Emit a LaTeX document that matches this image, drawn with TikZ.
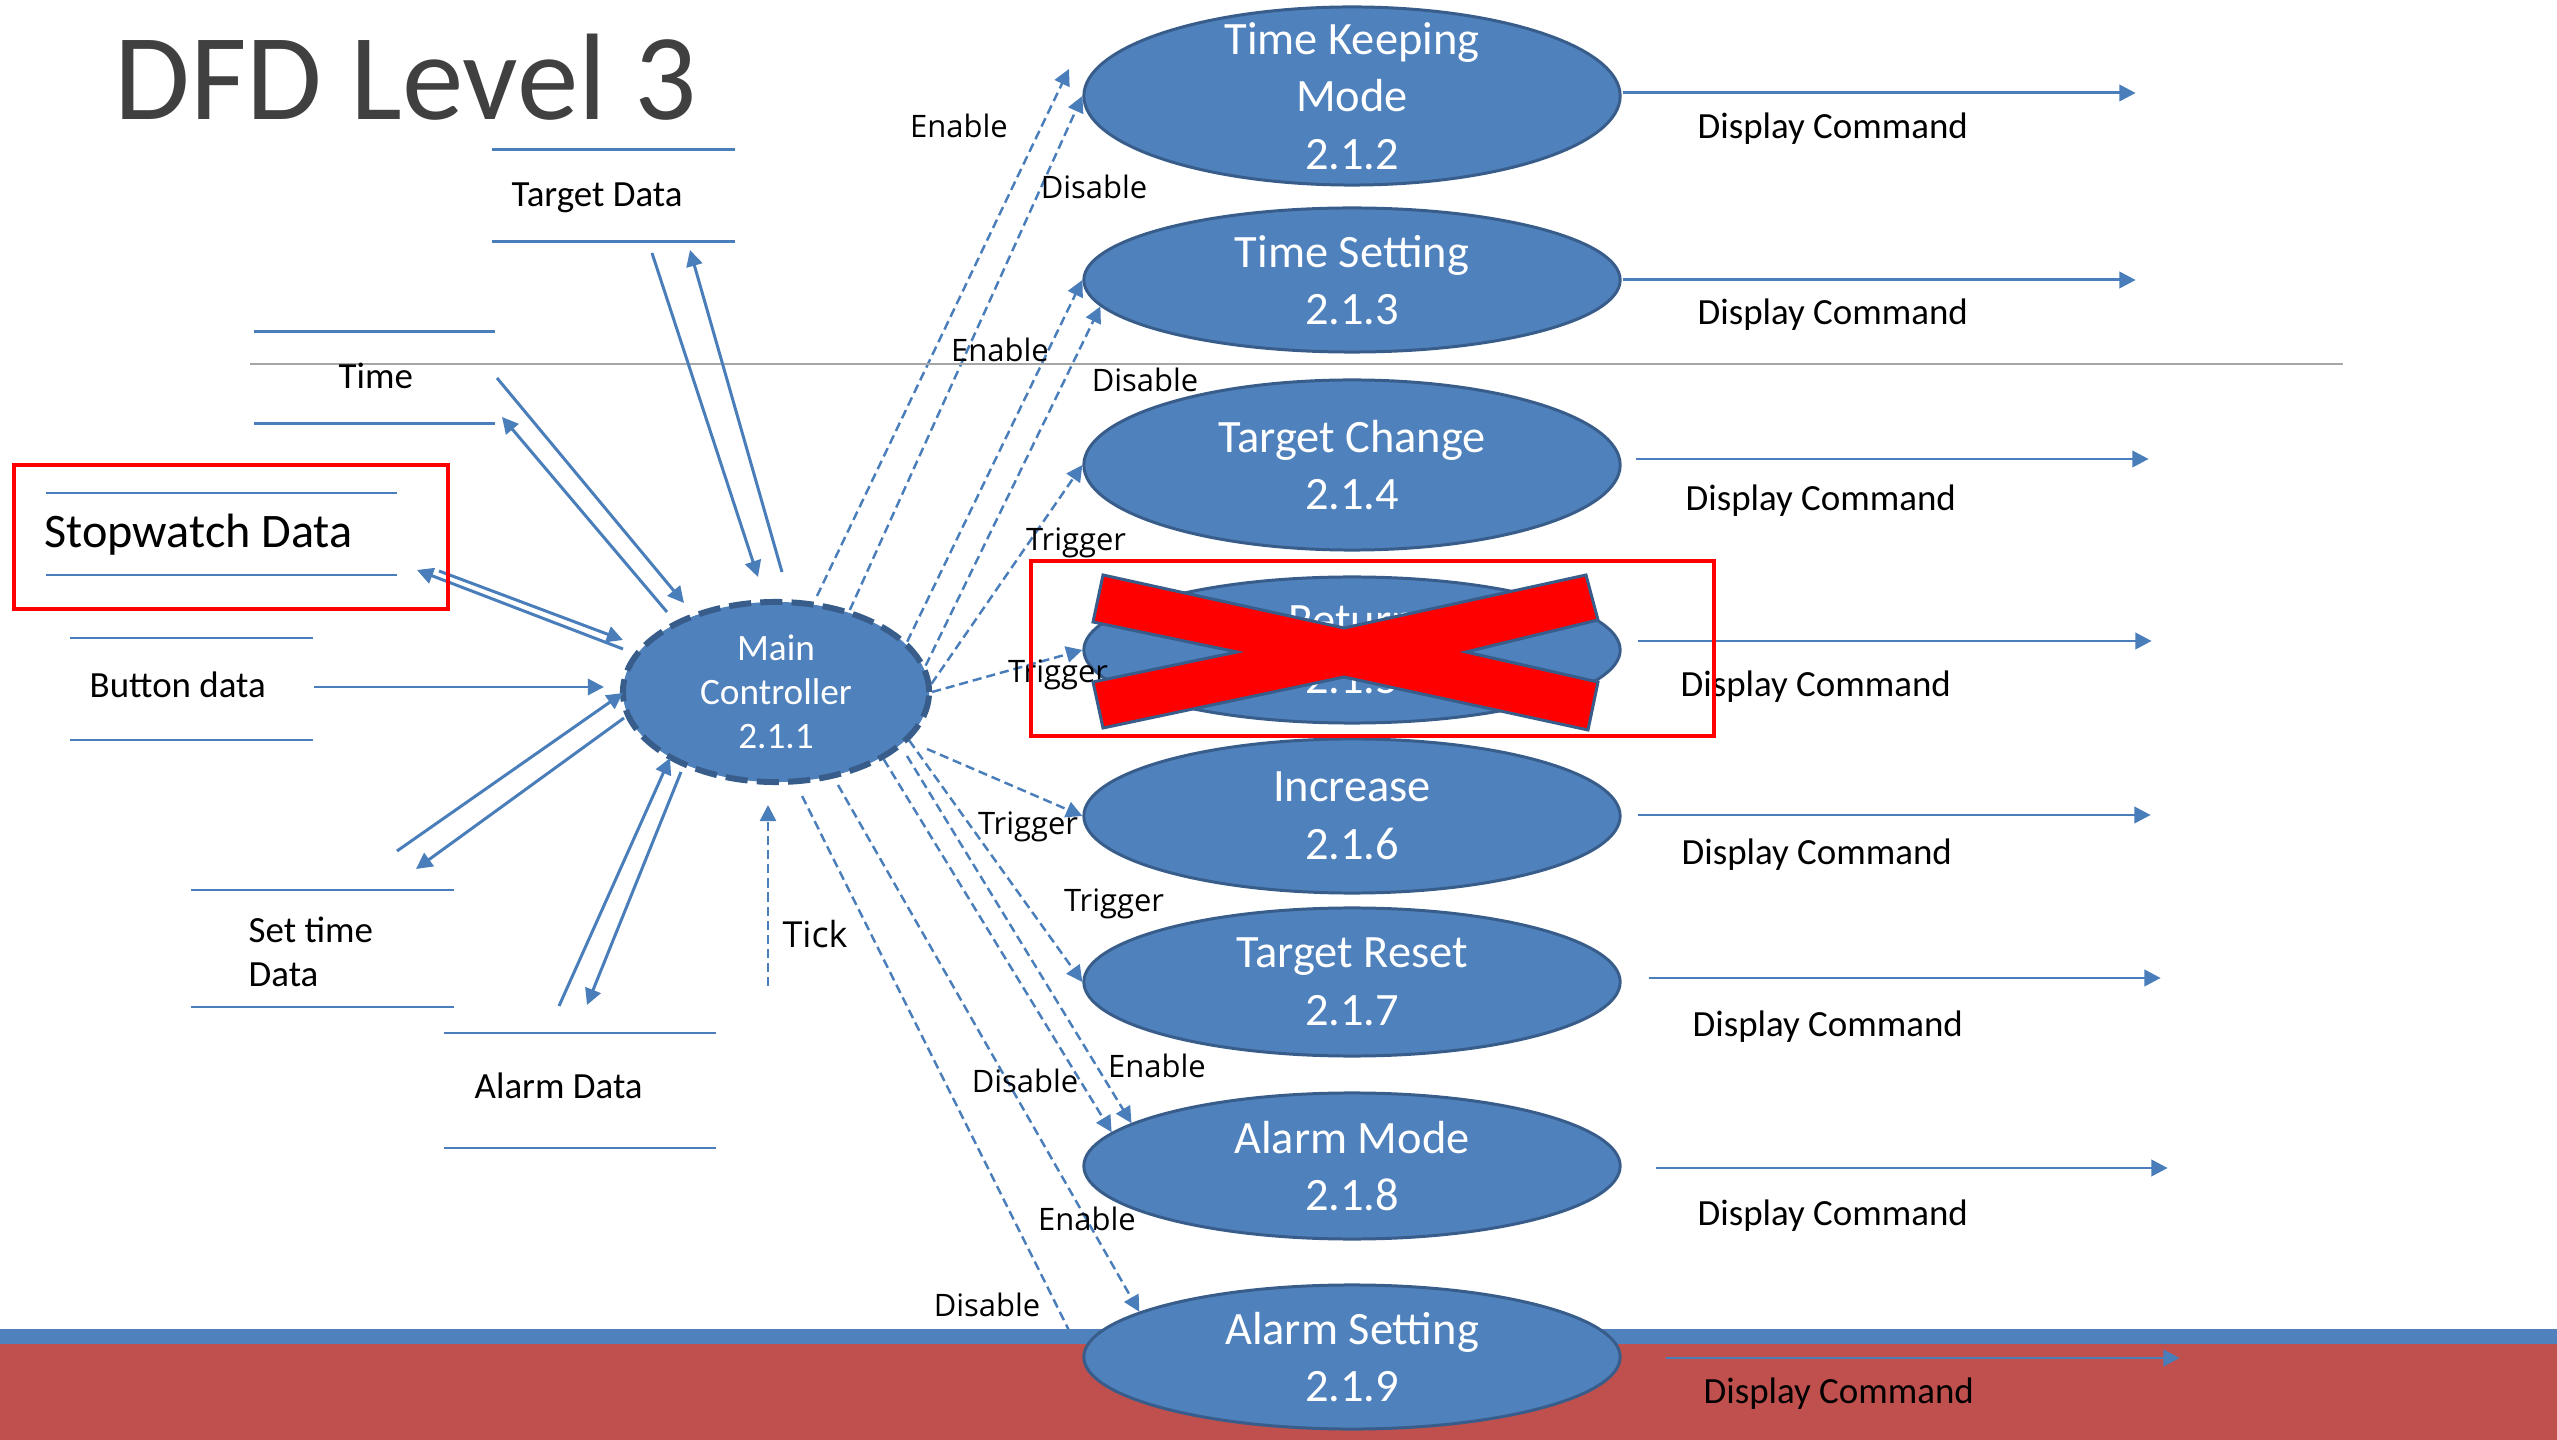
\documentclass[tikz,border=0pt]{standalone}
\usepackage{fontspec}
\setmainfont{Carlito}
\newfontfamily\edgefont{Open Sans}
\usetikzlibrary{shapes.geometric, arrows.meta}

\definecolor{procfill}{HTML}{4F81BD}
\definecolor{procedge}{HTML}{385D8A}
\definecolor{flowblue}{HTML}{4A7EBB}
\definecolor{bandred}{HTML}{C0504D}
\definecolor{titlegrey}{HTML}{404040}
\definecolor{rulegrey}{HTML}{A6A6A6}

\pgfdeclarelayer{back}
\pgfsetlayers{back,main}

\tikzset{
  proc/.style={ellipse, draw=procedge, fill=procfill, line width=0.85pt, minimum width=5.36cm, inner sep=0pt},
  ptext/.style={text=white, align=center, inner sep=0pt, font=\fontsize{13.2}{16.4}\selectfont},
  mainproc/.style={ellipse, draw=procedge, fill=procfill, line width=1.7pt, dash pattern=on 6.3pt off 2.6pt,
    minimum width=3.06cm, minimum height=1.8cm, inner sep=0pt},
  mtext/.style={text=white, align=center, inner sep=0pt, font=\fontsize{10.6}{12.6}\selectfont},
  storetext/.style={anchor=base west, inner sep=0pt, font=\fontsize{10.5}{12.5}\selectfont},
  storeline/.style={draw=flowblue, line width=0.85pt},
  edgelbl/.style={anchor=base, inner sep=0pt, font=\edgefont\fontsize{8.8}{10.5}\selectfont},
  flow/.style={draw=flowblue, line width=0.85pt, -{Triangle[length=4.6pt,width=4.6pt]}},
  ctrl/.style={flow, line width=0.7pt, dash pattern=on 2.6pt off 1.4pt},
}

\begin{document}
\begin{tikzpicture}[x=0.01cm, y=-0.01cm]
\useasboundingbox (0,0) rectangle (2557,1440);

% bottom band
\fill[procfill] (0,1329) rectangle (2557,1344);
\fill[bandred] (0,1344) rectangle (2557,1440);

\node[anchor=base west, inner sep=0pt, text=titlegrey, font=\fontsize{35}{41}\selectfont] (title) at (114,120) {DFD Level 3};
\draw[rulegrey, line width=0.6pt] (250,364) -- (2343,364);

% Data stores
\foreach \x/\y/\w/\v in {492/150/735/242, 254/332/495/424, 46/493/397/575, 70/638/313/740, 191/890/454/1007, 444/1033/716/1148}
  \draw[storeline] (\x,\y) -- (\w,\y) (\x,\v) -- (\w,\v);
\node[storetext] (target) at (511,207) {Target Data};
\node[storetext] (time) at (338,389) {Time};
\node[storetext, font=\fontsize{13.7}{16}\selectfont] (stopwatch) at (44,548) {Stopwatch Data};
\node[storetext] (button) at (89,698) {Button data};
\node[storetext, anchor=west, align=left] (settime) at (248,952) {Set time\\Data};
\node[storetext] (alarm) at (474,1098) {Alarm Data};

% Processes
\node[mainproc, label={[mtext]center:{Main\\Controller\\2.1.1}}] (mc) at (776,692) {};
\foreach \name/\y/\h/\txt in {p2/96/1.78/{Time Keeping\\Mode\\2.1.2}, p3/280/1.44/{Time Setting\\2.1.3},
    p4/465/1.70/{Target Change\\2.1.4}, p5/650/1.46/{Return\\2.1.5}, p6/816/1.54/{Increase\\2.1.6},
    p7/982/1.48/{Target Reset\\2.1.7}, p8/1166/1.46/{Alarm Mode\\2.1.8}, p9/1357/1.44/{Alarm Setting\\2.1.9}}
  \node[proc, minimum height=\h cm, label={[ptext]center:\txt}] (\name) at (1352,\y) {};

% Free ends
\foreach \n/\x/\y in {tA/497/378, tB/684/603, tC/667/612, tD/502/417, gA/652/253, gB/758/577, gC/782/572, gD/690/250,
    sA/439/571, sB/623/640, sC/623/649, sD/417/570, bA/314/687, bB/604/687, eA/397/851, eB/623/693, eC/624/718, eD/416/869,
    aA/559/1006, aB/670/758, aC/681/772, aD/587/1005, kA/768/986, kB/768/805,
    c1/817/596, k2/1069/69, c6/927/749, c8/907/756, c9/838/785, c10/802/796}
  \coordinate (\n) at (\x,\y);

% Data flows
\foreach \i/\j in {tA/tB, tC/tD, gA/gB, gC/gD, sA/sB, sC/sD, bA/bB, eA/eB, eC/eD, aA/aB, aC/aD}
  \draw[flow] (\i) -- (\j);

% Control flows
\begin{pgfonlayer}{back}
\draw[ctrl] (kA) -- (kB);
\foreach \i/\j in {c1/k2, mc.48/p2.west, mc.21/p3.west, mc.10/p3.186, mc.3/p4.west, mc.east/p5.west,
    c6/p6.west, mc.-20/p7.west, c8/p8.169, mc.-32/p8.172, c9/p9.168, c10/p9.west}
  \draw[ctrl] (\i) -- (\j);
\end{pgfonlayer}

\node[edgelbl, font=\edgefont\fontsize{10.2}{12}\selectfont] (tick) at (815,948) {Tick};
\foreach \n/\x/\y/\t in {en2/959/138/Enable, di2/1094/199/Disable, en3/1000/362/Enable, di3/1145/392/Disable,
    tr4/1076/551/Trigger, tr5/1058/683/Trigger, tr6/1028/834/Trigger, tr7/1114/912/Trigger,
    en8/1157/1077/Enable, di8/1025/1092/Disable, en9/1087/1230/Enable, di9/987/1316/Disable}
  \node[edgelbl] (\n) at (\x,\y) {\t};

% Display commands
\foreach \p/\dx/\dy/\len in {2/1/-3/513, 3/1/0/513, 4/14/-6/513, 5/16/-9/514, 6/16/-1/513, 7/27/-4/512, 8/34/2/512, 9/44/1/514}
  \draw[flow] ([shift={(\dx,\dy)}]p\p.east) -- ++(\len,0);
\foreach \p/\x/\y in {2/1697/139, 3/1697/325, 4/1685/511, 5/1680/697, 6/1681/865, 7/1692/1036, 8/1697/1225, 9/1703/1403}
  \node[storetext] (dc\p) at (\x,\y) {Display Command};

% Crossed out
\draw[fill=red, draw=procedge, line width=0.85pt] (1103,575) -- (1344,628) -- (1586,575) -- (1598,620) -- (1466,652)
  -- (1598,682) -- (1588,730) -- (1344,677) -- (1103,728) -- (1093,682) -- (1237,652) -- (1093,622) -- cycle;
\draw[red, line width=0.9pt] (1031,561) rectangle (1714,736);
\draw[red, line width=1.1pt] (14,465) rectangle (448,609);

\end{tikzpicture}
\end{document}
